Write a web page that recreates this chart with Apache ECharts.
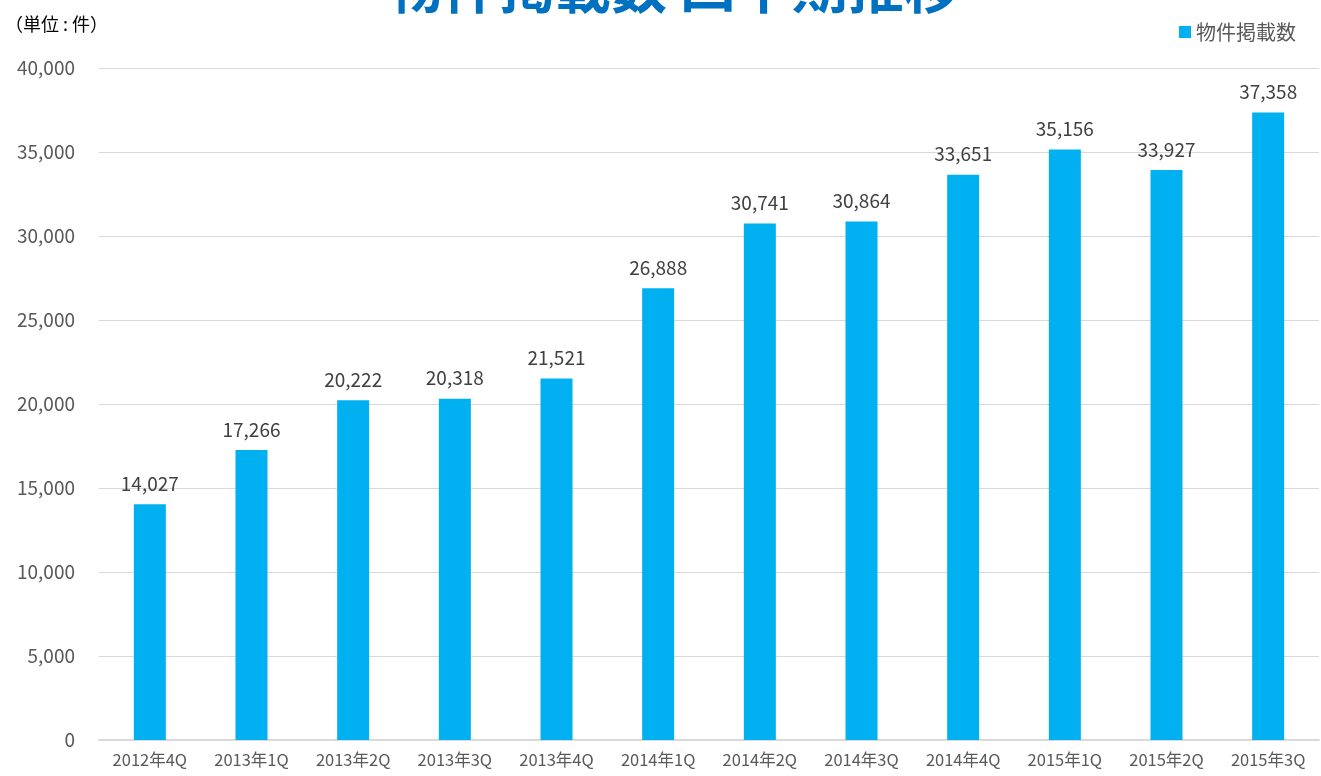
<!DOCTYPE html>
<html><head><meta charset="utf-8">
<script src="https://cdn.jsdelivr.net/npm/echarts@6/dist/echarts.min.js"></script>
<style>html,body{margin:0;padding:0;background:#fff}#c{width:1321px;height:776px}</style>
</head><body><div id="c"></div>
<script>
const categories = ['2012年4Q','2013年1Q','2013年2Q','2013年3Q','2013年4Q','2014年1Q','2014年2Q','2014年3Q','2014年4Q','2015年1Q','2015年2Q','2015年3Q'];
const listings = [14027,17266,20222,20318,21521,26888,30741,30864,33651,35156,33927,37358];
const seriesName = '物件掲載数';
const titleText = '物件掲載数 四半期推移';
const unitText = '（単位 : 件）';
const font = '"Noto Sans CJK JP","Noto Sans",sans-serif';
const chart = echarts.init(document.getElementById('c'));
chart.setOption({
  animation:false,
  title:[
    {text:titleText,left:382,top:-46,textStyle:{color:'#0070C0',fontSize:56,fontWeight:'bold',fontFamily:font}},
    {text:unitText,left:0,top:10,textStyle:{color:'#000',fontSize:18,fontWeight:'normal',fontFamily:font}}
  ],
  legend:{right:20,top:17,itemWidth:12,itemHeight:12,itemGap:6,icon:'rect',textStyle:{color:'#595959',fontSize:20,fontFamily:font},data:[seriesName]},
  grid:{left:99,right:2,top:68,bottom:36},
  xAxis:{type:'category',data:categories,axisTick:{show:false},axisLine:{lineStyle:{color:'#d9d9d9',width:2}},
    axisLabel:{color:'#595959',fontSize:16.5,margin:11,fontFamily:font}},
  yAxis:{type:'value',min:0,max:40000,interval:5000,
    axisLabel:{color:'#595959',fontSize:19,margin:24,fontFamily:font,formatter:v=>v.toLocaleString('en-US')},
    splitLine:{lineStyle:{color:'#d9d9d9'}},axisLine:{show:false},axisTick:{show:false}},
  series:[{name:seriesName,type:'bar',data:listings,barWidth:32,itemStyle:{color:'#00B0F0'},
    label:{show:true,position:'top',distance:11,color:'#404040',fontSize:19,fontFamily:font,formatter:p=>p.value.toLocaleString('en-US')}}]
});
</script></body></html>
